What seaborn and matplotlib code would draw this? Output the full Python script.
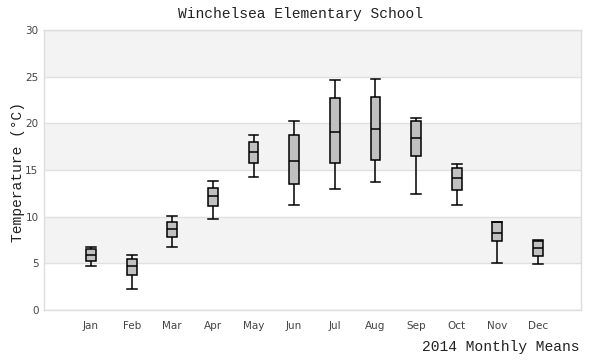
import numpy as np
import pandas as pd
import matplotlib
matplotlib.use("Agg")
import matplotlib.pyplot as plt
import seaborn as sns

months = ["Jan", "Feb", "Mar", "Apr", "May", "Jun", "Jul", "Aug", "Sep", "Oct", "Nov", "Dec"]
whisker_low = [4.7, 2.2, 6.7, 9.75, 14.2, 11.2, 13.0, 13.7, 12.4, 11.3, 5.0, 4.9]
q1 = [5.2, 3.7, 7.8, 11.1, 15.7, 13.5, 15.7, 16.1, 16.45, 12.9, 7.4, 5.75]
median = [5.9, 4.7, 8.7, 12.2, 16.9, 16.0, 19.1, 19.4, 18.4, 14.1, 8.3, 6.6]
q3 = [6.5, 5.5, 9.4, 13.1, 18.0, 18.7, 22.7, 22.8, 20.2, 15.2, 9.4, 7.4]
whisker_high = [6.7, 5.86, 10.1, 13.8, 18.7, 20.2, 24.6, 24.75, 20.6, 15.6, 9.4, 7.5]

rows = []
for i, m in enumerate(months):
    for v in (whisker_low[i], q1[i], median[i], q3[i], whisker_high[i]):
        rows.append({"month": m, "temp": v})
df = pd.DataFrame(rows)

fig = plt.figure(figsize=(6, 3.6), dpi=100)
ax = fig.add_axes([44 / 600, 1 - 310 / 360, (581 - 44) / 600, 280 / 360])

for lo in (5, 15, 25):
    ax.axhspan(lo, lo + 5, color="#f3f3f3", zorder=0, lw=0)

sns.boxplot(data=df, x="month", y="temp", order=months, whis=(0, 100),
            width=0.24, color="#c0c0c0", linecolor="black", linewidth=1.1,
            fliersize=0, saturation=1, ax=ax, capwidths=0.24, zorder=3)

ax.set_ylim(0, 30)
ax.set_xlim(-1.157, 12.06)
ax.set_yticks(range(0, 31, 5))
ax.yaxis.grid(True, color="#e0e0e0", lw=1, zorder=1)
ax.set_axisbelow(True)
for s in ax.spines.values():
    s.set_color("#dddddd")
    s.set_linewidth(1)
ax.tick_params(length=0, labelsize=7.5, labelcolor="#444444")
ax.tick_params(axis="y", pad=4)
ax.tick_params(axis="x", pad=8)
ax.set_xlabel("")
ax.set_ylabel("")

mono = ["Liberation Mono", "DejaVu Sans Mono"]
fig.text(0.5, 1 - 14 / 360, "Winchelsea Elementary School", ha="center", va="center",
         family=mono, fontsize=10.5, color="#222222")
fig.text(579 / 600, 1 - 347 / 360, "2014 Monthly Means", ha="right", va="center",
         family=mono, fontsize=10.5, color="#222222")
fig.text(18 / 600, 1 - 172 / 360, "Temperature (°C)", ha="center", va="center",
         rotation=90, family=mono, fontsize=10.5, color="#222222")

fig.savefig("out.png", dpi=100)
